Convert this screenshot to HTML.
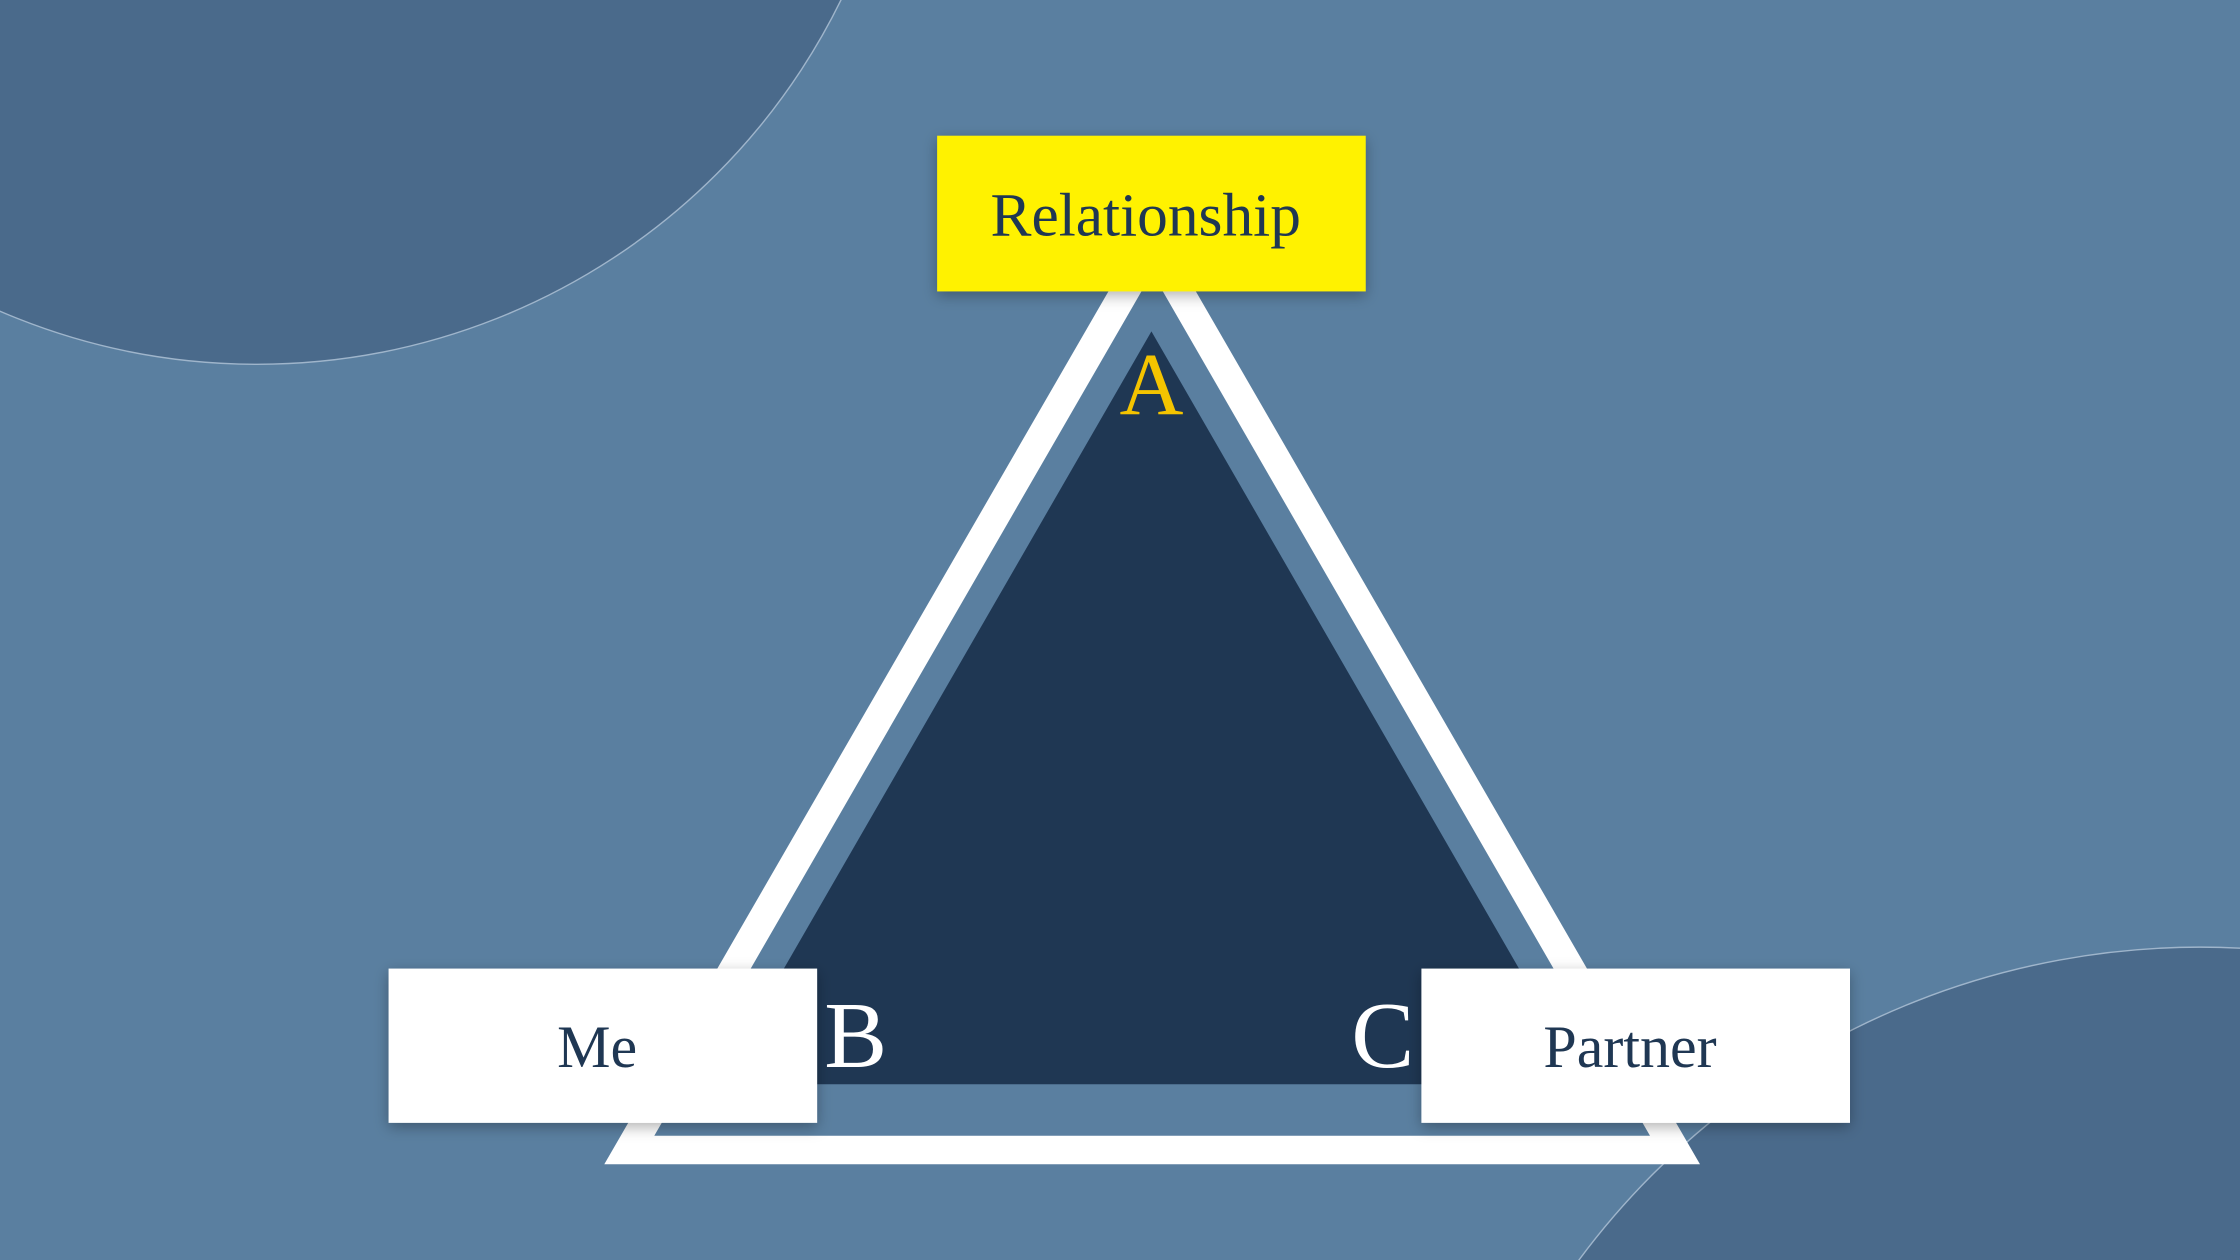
<!DOCTYPE html>
<html><head><meta charset="utf-8"><style>
html,body{margin:0;padding:0;background:#5a7fa0;width:2240px;height:1260px;overflow:hidden;}
svg{display:block;}
</style></head><body>
<svg width="2240" height="1260" viewBox="0 0 1568 882" xmlns="http://www.w3.org/2000/svg">
<defs>
<filter id="sh" x="-20%" y="-30%" width="140%" height="160%">
<feDropShadow dx="0" dy="3" stdDeviation="5" flood-color="#000" flood-opacity="0.3"/>
</filter>
</defs>
<rect width="1568" height="882" fill="#5a7fa0"/>
<circle cx="180" cy="-200" r="455" fill="#4a6a8b" stroke="#9fb5cb" stroke-width="1"/>
<circle cx="1540" cy="1204" r="541" fill="#4a6a8b" stroke="#9fb5cb" stroke-width="1"/>
<polygon points="423,815 1190,815 806.5,151" fill="#ffffff"/>
<polygon points="458,795 1155,795 806.5,191" fill="#5a7fa0"/>
<polygon points="806,232 1110,759 502,759" fill="#1f3753"/>
<g filter="url(#sh)">
<rect x="656" y="95" width="300" height="109" fill="#fff200"/>
<rect x="272" y="678" width="300" height="108" fill="#ffffff"/>
<rect x="995" y="678" width="300" height="108" fill="#ffffff"/>
</g>
<g font-family="'Liberation Serif', serif" fill="#1f3753" text-anchor="middle">
<text x="802" y="165" font-size="43">Relationship</text>
<text x="418" y="747" font-size="42">Me</text>
<text x="1141" y="747" font-size="42">Partner</text>
<text x="806" y="290" font-size="62" fill="#f4c400">A</text>
<text x="599" y="747" font-size="66" fill="#ffffff">B</text>
<text x="968" y="747" font-size="66" fill="#ffffff">C</text>
</g>
</svg>
</body></html>
